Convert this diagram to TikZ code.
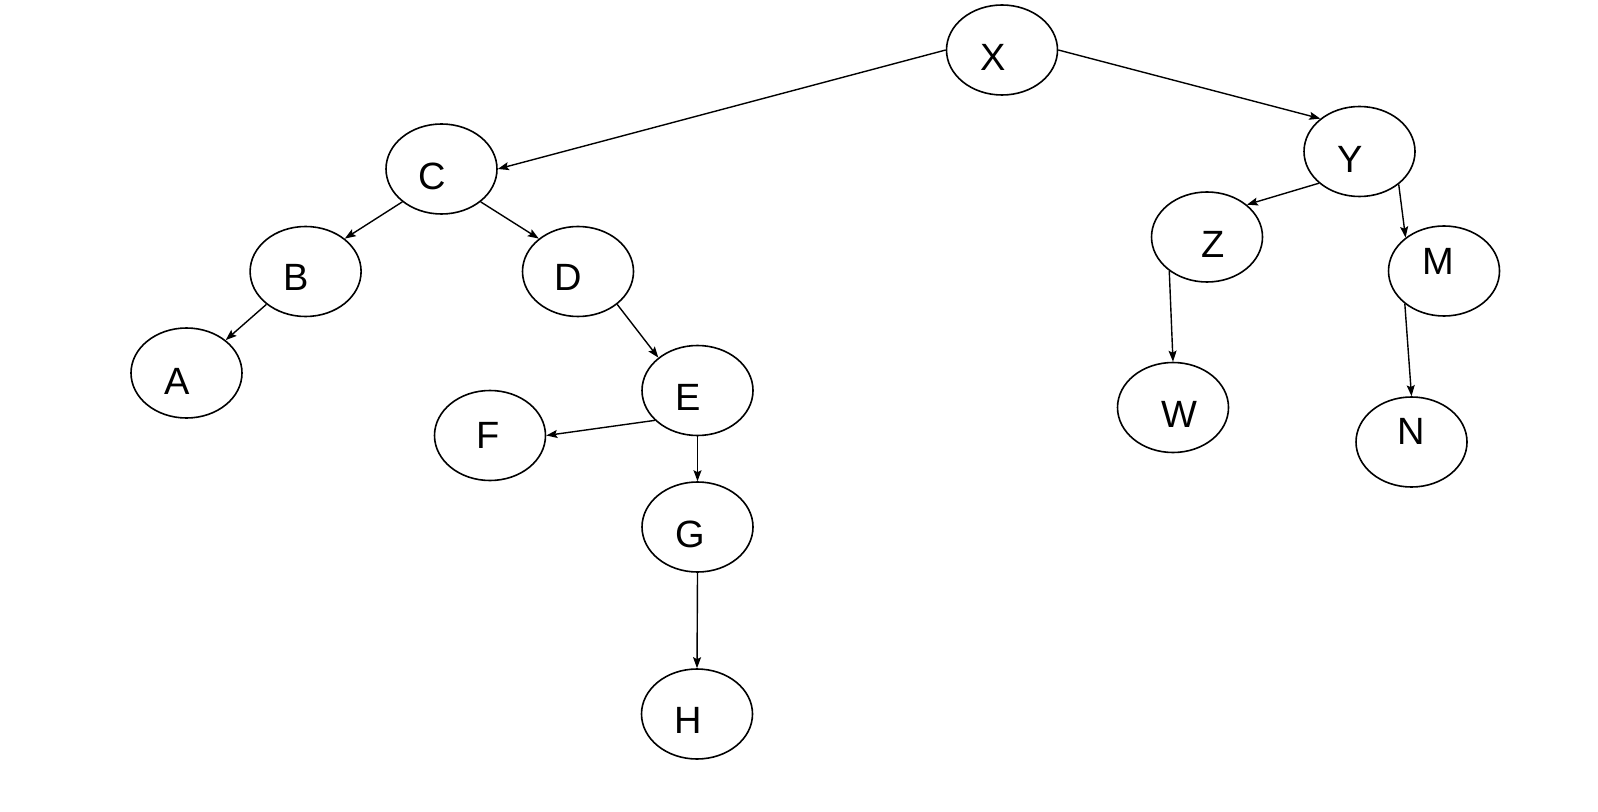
\documentclass[tikz,border=0pt]{standalone}
\usepackage{fontspec}
\setmainfont{Liberation Sans}
\usetikzlibrary{arrows.meta}
\usetikzlibrary{shapes.geometric}

\begin{document}
\begin{tikzpicture}[x=0.5pt,y=-0.5pt,>={Stealth[length=5.5pt,width=4pt,inset=1pt]},
font=\fontsize{19}{23}\selectfont,
vertex/.style={draw,ellipse,line width=0.8pt,minimum width=55.5pt,minimum height=45pt,inner sep=0pt},
edge/.style={->,line width=0.7pt}]
% The frame
\useasboundingbox (0,0) rectangle (1598,812);
% The vertices, letters a bit off centre
\foreach \nm/\x/\y/\dx/\dy in {X/1002/50/-9/7, C/441.5/169/-9/7.5, Y/1359.5/151.5/-9/7.5,
  B/305.6/271.5/-9.5/6, D/578/271.5/-9.3/6, A/186.5/373/-9.5/8, E/697.5/390.5/-9.5/6.5,
  F/490/435.5/-2/0, G/697.5/527/-7.5/7.5, H/697/714/-8.5/6.5, Z/1207/237/6/7,
  M/1444/271/-6/-9.5, W/1173/407.5/6/6.5, N/1411.5/442/0/-11}
{
  \node[vertex,label={[xshift=\dx*0.5pt,yshift=-\dy*0.5pt]center:\nm}] (\nm) at (\x,\y) {};
}
% From the root
\draw[edge] (X.west) -- (C.east);
\draw[edge] (X.east) -- (Y.140);
% Left branch
\draw[edge] (C.220) -- (B.40);
\draw[edge] (C.-40) -- (D.140);
\draw[edge] (B.220) -- (A.40);
\draw[edge] (D.-40) -- (E.140);
\draw[edge] (E.215) -- (F.east);
\draw[edge] (E.south) -- (G.north);
\draw[edge] (G.south) -- (H.north);
% Right branch
\draw[edge] (Y.218) -- (Z.39);
\draw[edge] (Y.-40) -- (M.139);
\draw[edge] (Z.222) -- (W.north);
\draw[edge] (M.220) -- (N.north);
\end{tikzpicture}
\end{document}
